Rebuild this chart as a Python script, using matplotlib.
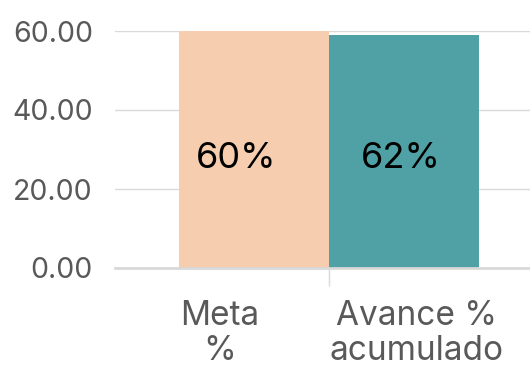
import matplotlib.pyplot as plt
from matplotlib.ticker import FormatStrFormatter

categories = ["Meta\n%", "Avance %\nacumulado"]
values = [60, 59]
bar_labels = ["60%", "62%"]
colors = ["#F6CDAF", "#4FA1A5"]

plt.rcParams['font.family'] = ['Inter', 'DejaVu Sans']

fig = plt.figure(figsize=(5.3, 3.68), dpi=100)
ax = fig.add_axes([115 / 530, 100 / 368, 1 - 115 / 530, 237 / 368])

# bar and label positions relative to the category ticks (placed at 0 and 1)
offsets = [0.173, -0.066]
label_offsets = [0.084, -0.081]
width = 0.76
for i, (v, lab, c) in enumerate(zip(values, bar_labels, colors)):
    ax.bar(i + offsets[i], v, width=width, color=c, zorder=2)
    ax.text(i + label_offsets[i], 27.7, lab, ha='center', va='center',
            fontsize=26, color='black')

ax.set_xlim(-0.533, 1.574)
ax.set_ylim(0, 60)
ax.set_yticks([0, 20, 40, 60])
ax.yaxis.set_major_formatter(FormatStrFormatter('%.2f'))
ax.grid(axis='y', color='#d9d9d9', linewidth=1, zorder=0)

ax.set_xticks([0, 1])
ax.set_xticklabels(categories, fontsize=24, color='#595959', linespacing=1.12)
ax.set_xticks([0.553], minor=True)
ax.tick_params(axis='x', which='major', length=0, pad=23)
ax.tick_params(axis='x', which='minor', length=13, width=1, color='#d9d9d9')
ax.tick_params(axis='y', length=0, pad=16, labelsize=20.5, labelcolor='#595959')

for s in ['top', 'right', 'left']:
    ax.spines[s].set_visible(False)
ax.spines['bottom'].set_color('#d9d9d9')
ax.spines['bottom'].set_linewidth(2)

fig.savefig("out.png", dpi=100)
